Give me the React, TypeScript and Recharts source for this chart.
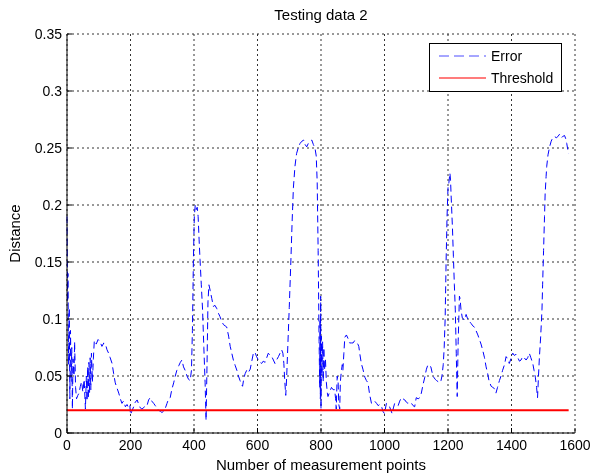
import { LineChart, Line, XAxis, YAxis, CartesianGrid, Legend } from 'recharts';

// sample index of each traced point (x axis)
const pointIndex = [
  0, 2, 3, 5, 7, 9, 11, 13, 15, 17, 19, 22, 24, 27, 30, 34, 38, 42, 46, 50,
  54, 58, 61, 63, 65, 67, 69, 71, 73, 75, 77, 80, 83, 86, 92, 98, 104, 110, 116, 121,
  126, 131, 136, 142, 147, 152, 158, 163, 168, 173, 178, 184, 189, 194, 198, 200, 204, 210, 215, 221,
  226, 231, 236, 241, 246, 252, 257, 262, 267, 273, 278, 283, 288, 294, 299, 304, 310, 315, 320, 325,
  330, 336, 341, 346, 352, 357, 362, 367, 372, 378, 383, 388, 392, 395, 398, 401, 404, 407, 410, 413,
  416, 419, 423, 427, 431, 435, 438, 441, 444, 447, 451, 456, 461, 466, 472, 477, 482, 487, 493, 498,
  503, 509, 514, 519, 524, 530, 535, 540, 545, 549, 553, 557, 561, 566, 571, 577, 582, 587, 592, 597,
  603, 608, 613, 618, 624, 629, 634, 640, 645, 650, 655, 660, 666, 671, 676, 680, 683, 686, 689, 692,
  696, 700, 705, 709, 713, 718, 723, 728, 734, 740, 746, 750, 755, 760, 766, 771, 776, 781, 785, 788,
  791, 794, 796, 797, 798, 799, 800, 801, 803, 805, 807, 809, 811, 814, 817, 820, 822, 827, 833, 838,
  843, 846, 848, 851, 854, 856, 859, 861, 864, 867, 869, 872, 875, 880, 885, 890, 896, 901, 906, 911,
  916, 919, 922, 927, 932, 938, 943, 948, 953, 959, 964, 969, 975, 980, 985, 990, 995, 1000, 1006, 1011,
  1016, 1020, 1024, 1028, 1032, 1038, 1043, 1048, 1053, 1058, 1064, 1069, 1074, 1080, 1085, 1090, 1095, 1100, 1106, 1111,
  1116, 1121, 1127, 1132, 1137, 1142, 1146, 1150, 1155, 1160, 1164, 1169, 1174, 1178, 1181, 1185, 1188, 1191, 1194, 1197,
  1200, 1203, 1206, 1208, 1210, 1214, 1217, 1220, 1223, 1226, 1229, 1232, 1236, 1238, 1241, 1245, 1249, 1252, 1257, 1262,
  1267, 1273, 1278, 1283, 1288, 1294, 1299, 1304, 1309, 1315, 1320, 1325, 1329, 1333, 1336, 1341, 1346, 1351, 1356, 1362,
  1367, 1372, 1378, 1383, 1388, 1393, 1398, 1404, 1409, 1414, 1420, 1425, 1430, 1435, 1440, 1446, 1451, 1456, 1461, 1467,
  1471, 1475, 1479, 1482, 1485, 1488, 1492, 1496, 1498, 1501, 1504, 1506, 1509, 1511, 1515, 1520, 1525, 1530, 1536, 1541,
  1546, 1551, 1556, 1561, 1567, 1571, 1574, 1577, 1580,
];

// error distance, same order as pointIndex
const errorDistance = [
  0.19, 0.115, 0.14, 0.06, 0.11, 0.03, 0.09, 0.045, 0.075, 0.021, 0.065, 0.05, 0.08, 0.04, 0.03, 0.033, 0.035, 0.041, 0.045, 0.036,
  0.047, 0.021, 0.05, 0.028, 0.058, 0.03, 0.062, 0.035, 0.066, 0.038, 0.07, 0.045, 0.065, 0.081, 0.078, 0.082, 0.08, 0.076, 0.079, 0.078,
  0.073, 0.07, 0.066, 0.061, 0.052, 0.044, 0.039, 0.035, 0.03, 0.026, 0.028, 0.023, 0.025, 0.022, 0.024, 0.016, 0.019, 0.023, 0.027, 0.029,
  0.025, 0.022, 0.021, 0.022, 0.024, 0.024, 0.029, 0.031, 0.028, 0.026, 0.024, 0.022, 0.02, 0.019, 0.018, 0.019, 0.022, 0.026, 0.03, 0.031,
  0.038, 0.044, 0.05, 0.055, 0.059, 0.062, 0.064, 0.058, 0.055, 0.05, 0.047, 0.046, 0.055, 0.09, 0.15, 0.19, 0.2, 0.196, 0.198, 0.19,
  0.17, 0.152, 0.13, 0.108, 0.075, 0.044, 0.011, 0.06, 0.115, 0.13, 0.125, 0.118, 0.111, 0.112, 0.109, 0.105, 0.102, 0.098, 0.095, 0.094,
  0.093, 0.085, 0.076, 0.07, 0.064, 0.059, 0.055, 0.05, 0.046, 0.043, 0.041, 0.048, 0.052, 0.055, 0.053, 0.056, 0.063, 0.07, 0.071, 0.067,
  0.064, 0.062, 0.061, 0.063, 0.062, 0.066, 0.07, 0.068, 0.067, 0.064, 0.061, 0.064, 0.067, 0.07, 0.073, 0.07, 0.061, 0.045, 0.033, 0.05,
  0.08, 0.11, 0.15, 0.185, 0.215, 0.234, 0.245, 0.25, 0.254, 0.256, 0.257, 0.253, 0.251, 0.254, 0.256, 0.257, 0.253, 0.25, 0.243, 0.22,
  0.16, 0.08, 0.04, 0.1, 0.03, 0.12, 0.021, 0.085, 0.05, 0.08, 0.045, 0.075, 0.055, 0.065, 0.044, 0.035, 0.032, 0.036, 0.04, 0.038,
  0.038, 0.03, 0.021, 0.05, 0.044, 0.025, 0.021, 0.045, 0.054, 0.06, 0.055, 0.07, 0.084, 0.086, 0.083, 0.079, 0.079, 0.079, 0.081, 0.08,
  0.078, 0.076, 0.07, 0.061, 0.056, 0.049, 0.046, 0.044, 0.034, 0.026, 0.027, 0.028, 0.026, 0.024, 0.025, 0.024, 0.019, 0.017, 0.026, 0.025,
  0.023, 0.02, 0.017, 0.022, 0.026, 0.025, 0.024, 0.028, 0.031, 0.03, 0.029, 0.027, 0.026, 0.027, 0.026, 0.024, 0.023, 0.031, 0.03, 0.031,
  0.035, 0.042, 0.049, 0.056, 0.06, 0.059, 0.058, 0.053, 0.049, 0.047, 0.046, 0.045, 0.044, 0.046, 0.05, 0.06, 0.075, 0.1, 0.15, 0.19,
  0.215, 0.22, 0.228, 0.222, 0.207, 0.18, 0.155, 0.13, 0.108, 0.07, 0.032, 0.08, 0.12, 0.118, 0.108, 0.101, 0.1, 0.099, 0.104, 0.1,
  0.098, 0.096, 0.094, 0.093, 0.09, 0.086, 0.082, 0.078, 0.073, 0.066, 0.058, 0.052, 0.046, 0.043, 0.041, 0.04, 0.039, 0.035, 0.04, 0.046,
  0.05, 0.055, 0.06, 0.067, 0.065, 0.061, 0.065, 0.07, 0.068, 0.069, 0.066, 0.063, 0.064, 0.067, 0.066, 0.064, 0.066, 0.07, 0.066, 0.061,
  0.055, 0.049, 0.04, 0.031, 0.05, 0.067, 0.085, 0.108, 0.13, 0.16, 0.19, 0.21, 0.225, 0.234, 0.244, 0.251, 0.256, 0.259, 0.26, 0.259,
  0.26, 0.262, 0.259, 0.26, 0.261, 0.258, 0.254, 0.249, 0.245,
];

const thresholdValue = 0.02;

const xTicks = [0, 200, 400, 600, 800, 1000, 1200, 1400, 1600];
const yTicks = [0, 0.05, 0.1, 0.15, 0.2, 0.25, 0.3, 0.35];

const data = pointIndex.map((x, i) => ({
  x,
  error: errorDistance[i],
  threshold: thresholdValue,
}));

const family = '"Liberation Sans", Arial, sans-serif';
const font = { fill: '#000', fontSize: 15, fontFamily: family };
const tickFont = { fill: '#000', fontSize: 14, fontFamily: family };
const blank = () => '';

function LegendBox() {
  return (
    <div
      style={{
        width: 133,
        height: 49,
        boxSizing: 'border-box',
        border: '1px solid #000',
        background: '#fff',
        fontSize: 14,
        fontFamily: family,
        color: '#000',
        position: 'relative',
      }}
    >
      <svg width={60} height={47} style={{ position: 'absolute', left: 0, top: 0 }}>
        <line x1={9} x2={56} y1={12} y2={12} stroke="#4d4dff" strokeWidth={1} strokeDasharray="10 5" />
        <line x1={9} x2={56} y1={34} y2={34} stroke="#ff5050" strokeWidth={1.5} />
      </svg>
      <div style={{ position: 'absolute', left: 61, top: 3, lineHeight: '18px' }}>Error</div>
      <div style={{ position: 'absolute', left: 61, top: 25, lineHeight: '18px' }}>Threshold</div>
    </div>
  );
}

export default function App() {
  return (
    <div style={{ position: 'fixed', left: 0, top: 0, width: 590, height: 473, background: '#fff' }}>
      <div
        style={{
          position: 'absolute',
          left: 0,
          top: 6,
          width: 642,
          textAlign: 'center',
          fontSize: 15,
          fontFamily: family,
          color: '#000',
          lineHeight: '18px',
        }}
      >
        Testing data 2
      </div>
      <LineChart width={590} height={473} data={data} margin={{ top: 34, right: 15, bottom: 0, left: 0 }}>
        <CartesianGrid stroke="#333" strokeDasharray="2 3" horizontalValues={yTicks} verticalValues={xTicks} />
        <XAxis
          dataKey="x"
          type="number"
          domain={[0, 1600]}
          ticks={xTicks}
          height={40}
          stroke="#000"
          tick={tickFont}
          tickSize={-5}
          tickMargin={12}
          label={{ value: 'Number of measurement points', position: 'insideBottom', offset: 3, style: font }}
        />
        <XAxis
          xAxisId="top"
          orientation="top"
          dataKey="x"
          type="number"
          domain={[0, 1600]}
          ticks={xTicks}
          height={0}
          stroke="#000"
          tickSize={-5}
          tickFormatter={blank}
        />
        <YAxis
          type="number"
          domain={[0, 0.35]}
          ticks={yTicks}
          width={67}
          stroke="#000"
          tick={tickFont}
          tickSize={-5}
          tickMargin={10}
          label={{
            value: 'Distance',
            angle: -90,
            position: 'insideLeft',
            offset: 15,
            style: { ...font, textAnchor: 'middle' },
          }}
        />
        <YAxis
          yAxisId="right"
          orientation="right"
          type="number"
          domain={[0, 0.35]}
          ticks={yTicks}
          width={0}
          stroke="#000"
          tickSize={-5}
          tickFormatter={blank}
        />
        <Legend
          layout="vertical"
          align="center"
          verticalAlign="middle"
          content={() => <LegendBox />}
          wrapperStyle={{ position: 'absolute', left: 429, top: 43, width: 133, height: 49 }}
        />
        <Line
          type="linear"
          dataKey="error"
          name="Error"
          stroke="#0000ff"
          strokeWidth={1}
          strokeDasharray="7 4"
          dot={false}
          isAnimationActive={false}
        />
        <Line
          type="linear"
          dataKey="threshold"
          name="Threshold"
          stroke="#ff0000"
          strokeWidth={2}
          dot={false}
          isAnimationActive={false}
        />
      </LineChart>
    </div>
  );
}
